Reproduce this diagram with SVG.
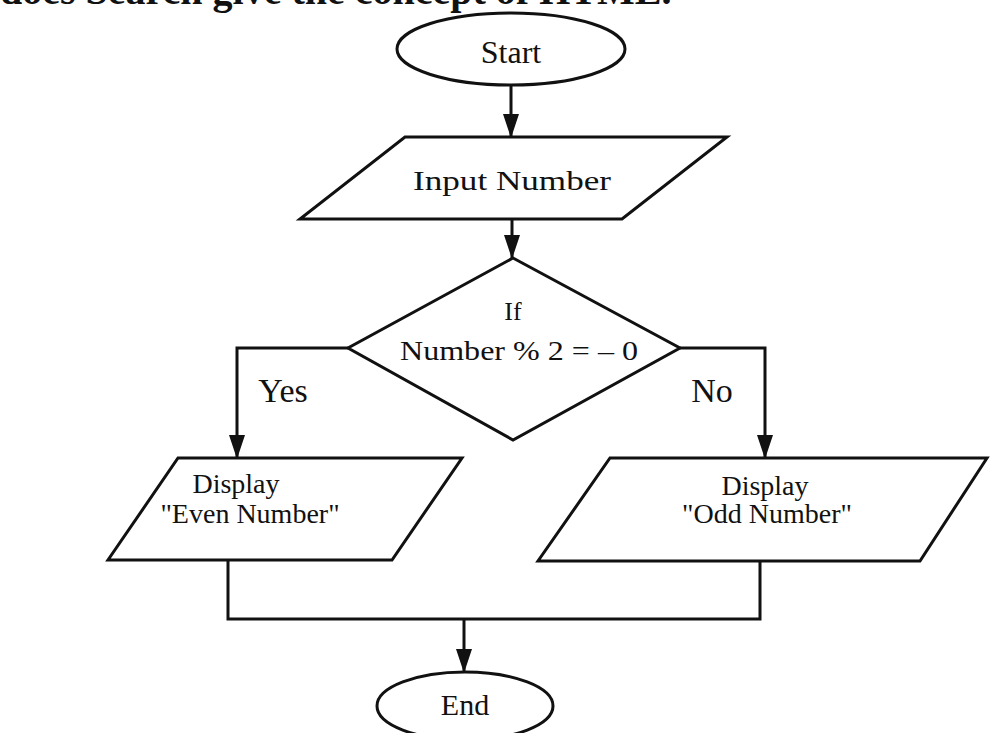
<svg xmlns="http://www.w3.org/2000/svg" width="991" height="733" viewBox="0 0 991 733">
<style>
.shape{fill:none;stroke:#111;stroke-width:3;stroke-linejoin:miter}
.conn{fill:none;stroke:#111;stroke-width:3}
.lbl{font-family:"Liberation Serif","Times New Roman",serif;fill:#111;text-anchor:middle}
.title{font-family:"Liberation Serif","Times New Roman",serif;font-weight:bold;fill:#111}
</style>
<defs>
<marker id="ah" markerUnits="userSpaceOnUse" markerWidth="24" markerHeight="16" refX="23" refY="8" orient="auto" viewBox="0 0 24 16">
<path d="M0,0 L24,8 L0,16 Z" fill="#111"/>
</marker>
</defs>
<rect x="0" y="0" width="991" height="733" fill="#fff"/>
<text class="title" x="0" y="4" font-size="40">does Search give the concept of HTML.</text>

<g id="connectors">
<line class="conn" x1="511" y1="85" x2="511" y2="137" marker-end="url(#ah)"/>
<line class="conn" x1="512" y1="219" x2="512" y2="258" marker-end="url(#ah)"/>
<polyline class="conn" points="348,348 237,348 237,458" marker-end="url(#ah)"/>
<polyline class="conn" points="680,348 765,348 765,458" marker-end="url(#ah)"/>
<polyline class="conn" points="228,560 228,619 760,619 760,561"/>
<line class="conn" x1="464" y1="619" x2="464" y2="672" marker-end="url(#ah)"/>
<text class="lbl" x="283" y="402" font-size="34">Yes</text>
<text class="lbl" x="712" y="402" font-size="34">No</text>
</g>

<g id="start">
<ellipse class="shape" cx="511" cy="49" rx="114" ry="36"/>
<text class="lbl" x="511" y="63" font-size="32">Start</text>
</g>

<g id="input">
<polygon class="shape" points="405,137 727,137 622,219 300,219"/>
<text class="lbl" x="512" y="190" font-size="27" textLength="198" lengthAdjust="spacingAndGlyphs">Input Number</text>
</g>

<g id="decision">
<polygon class="shape" points="513,258 680,348 513,440 348,348"/>
<text class="lbl" x="513" y="320" font-size="26">If</text>
<text class="lbl" x="519" y="360" font-size="27" textLength="238" lengthAdjust="spacingAndGlyphs">Number % 2 = – 0</text>
</g>

<g id="even">
<polygon class="shape" points="178,458 462,458 392,560 108,560"/>
<text class="lbl" x="236" y="493" font-size="28">Display</text>
<text class="lbl" x="250" y="523" font-size="28">"Even Number"</text>
</g>

<g id="odd">
<polygon class="shape" points="610,458 987,458 920,561 538,561"/>
<text class="lbl" x="765" y="495" font-size="28">Display</text>
<text class="lbl" x="767" y="523" font-size="28">"Odd Number"</text>
</g>

<g id="end">
<ellipse class="shape" cx="465" cy="706" rx="88" ry="34"/>
<text class="lbl" x="465" y="715" font-size="30">End</text>
</g>
</svg>
